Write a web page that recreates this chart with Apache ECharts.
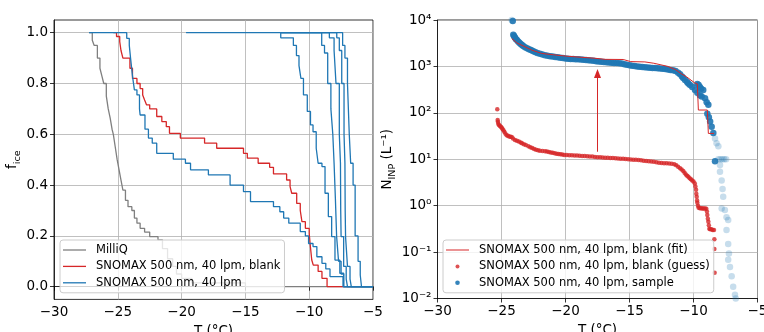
<!DOCTYPE html>
<html>
<head>
<meta charset="utf-8">
<script src="https://cdn.jsdelivr.net/npm/echarts@6/dist/echarts.min.js"></script>
<style>
  html, body { margin: 0; padding: 0; background: #fff; }
  #chart { width: 764px; height: 332px; }
</style>
</head>
<body>
<div id="chart"></div>
<script>
// ---------- left panel: frozen fraction, step curves (value holds from T until next T) ----------
const milliqT = [-27.25, -27.0, -26.85, -26.6, -26.4, -26.25, -26.1, -25.9, -25.75, -25.6, -25.45, -25.35, -25.2, -25.05, -24.9, -24.75, -24.6, -24.4, -24.2, -23.9, -23.7, -23.5, -23.25, -22.9, -22.5, -21.85, -21.5, -21.1, -20.7, -20.4, -20.0, -19.2, -15.0, -5];
const milliqF = [1.0, 0.97, 0.95, 0.9, 0.86, 0.83, 0.8, 0.75, 0.7, 0.665, 0.62, 0.6, 0.55, 0.5, 0.46, 0.42, 0.38, 0.34, 0.315, 0.3, 0.27, 0.25, 0.23, 0.215, 0.197, 0.184, 0.15, 0.11, 0.08, 0.05, 0.033, 0.015, 0.0, 0.0];

const blankT = [-25.35, -25.1, -24.85, -24.75, -24.6, -24.05, -23.85, -23.5, -23.25, -23.05, -22.9, -22.75, -22.5, -21.95, -21.55, -21.2, -20.95, -20.1, -18.2, -17.25, -15.15, -14.85, -14.0, -13.1, -12.8, -11.77, -11.5, -11.37, -10.98, -10.7, -10.57, -10.3, -10.0, -9.93, -9.8, -9.68, -9.3, -9.0, -8.6, -5];
const blankF = [1.0, 0.985, 0.965, 0.93, 0.9, 0.86, 0.82, 0.8, 0.78, 0.755, 0.735, 0.716, 0.7, 0.67, 0.65, 0.63, 0.604, 0.585, 0.565, 0.545, 0.525, 0.506, 0.486, 0.47, 0.444, 0.42, 0.394, 0.368, 0.328, 0.3, 0.256, 0.23, 0.21, 0.17, 0.105, 0.085, 0.06, 0.033, 0.0, 0.0];

const run1T = [-27.25, -24.3, -24.1, -24.0, -23.85, -23.7, -23.5, -23.3, -23.25, -22.87, -22.6, -22.3, -21.95, -20.65, -19.7, -19.3, -17.9, -16.2, -15.15, -14.6, -12.8, -12.3, -12.0, -11.6, -10.7, -10.3, -10.05, -9.7, -9.4, -9.0, -8.7, -8.37, -7.35, -5];
const run1F = [1.0, 0.978, 0.95, 0.9, 0.83, 0.775, 0.755, 0.7, 0.676, 0.62, 0.585, 0.565, 0.525, 0.502, 0.486, 0.46, 0.44, 0.4, 0.374, 0.335, 0.315, 0.295, 0.27, 0.25, 0.217, 0.2, 0.17, 0.158, 0.118, 0.092, 0.07, 0.04, 0.0, 0.0];

const run2T = [-19.65, -12.23, -11.24, -11.0, -10.8, -10.65, -10.45, -10.15, -9.9, -9.7, -9.45, -9.3, -9.0, -8.76, -8.5, -8.24, -7.98, -7.6, -7.3, -5];
const run2F = [1.0, 0.98, 0.95, 0.91, 0.87, 0.82, 0.755, 0.69, 0.637, 0.61, 0.545, 0.486, 0.473, 0.368, 0.276, 0.197, 0.105, 0.053, 0.0, 0.0];

const run3T = [-12.2, -9.02, -8.8, -8.55, -8.3, -8.15, -8.05, -7.95, -7.85, -7.7, -7.5, -7.3, -5];
const run3F = [1.0, 0.95, 0.92, 0.8, 0.7, 0.6, 0.486, 0.35, 0.197, 0.1, 0.05, 0.0, 0.0];

const run4T = [-12.2, -8.42, -8.05, -7.9, -7.64, -7.55, -7.53, -7.5, -7.3, -7.1, -7.0, -5];
const run4F = [1.0, 0.98, 0.93, 0.8, 0.6, 0.486, 0.3, 0.197, 0.08, 0.03, 0.0, 0.0];

const run5T = [-12.2, -7.84, -7.64, -7.45, -7.27, -7.2, -7.18, -7.15, -7.0, -6.8, -6.7, -5];
const run5F = [1.0, 0.98, 0.93, 0.8, 0.6, 0.486, 0.3, 0.197, 0.08, 0.03, 0.0, 0.0];

const run6T = [-12.2, -7.38, -7.2, -7.0, -6.86, -6.75, -6.56, -6.4, -6.17, -6.0, -5.9, -5];
const run6F = [1.0, 0.95, 0.9, 0.8, 0.6, 0.486, 0.4, 0.2, 0.1, 0.046, 0.0, 0.0];

const fTicks = [0, 0.2, 0.4, 0.6, 0.8, 1.0];

// ---------- right panel: INP concentration ----------
const guessT = [-25.33, -25.3, -25.28, -25.25, -25.2, -25.12, -25.05, -24.98, -24.92, -24.85, -24.78, -24.7, -24.6, -24.5, -24.4, -24.3, -24.2, -24.1, -23.95, -23.8, -23.65, -23.5, -23.4, -23.25, -23.1, -22.9, -22.75, -22.6, -22.45, -22.3, -22.15, -22.0, -21.8, -21.6, -21.45, -21.3, -21.15, -21.0, -20.85, -20.7, -20.55, -20.4, -20.25, -20.1, -19.9, -19.7, -19.5, -19.3, -19.1, -18.9, -18.7, -18.5, -18.3, -18.1, -17.9, -17.7, -17.5, -17.3, -17.1, -16.9, -16.7, -16.5, -16.3, -16.1, -15.9, -15.7, -15.5, -15.3, -15.1, -14.9, -14.7, -14.5, -14.3, -14.1, -13.9, -13.7, -13.5, -13.3, -13.1, -12.9, -12.7, -12.5, -12.3, -12.1, -11.9, -11.7, -11.5, -11.35, -11.2, -11.05, -10.93, -10.8, -10.7, -10.6, -10.5, -10.4, -10.3, -10.2, -10.1, -10.0, -9.9, -9.85, -9.8, -9.78, -9.75, -9.72, -9.7, -9.65, -9.6, -9.5, -9.4, -9.3, -9.2, -9.1, -9.0, -8.95, -8.92, -8.88, -8.84, -8.8, -8.76, -8.7, -8.6, -8.5, -8.4, -8.37, -8.37, -8.35];
const guessN = [119, 70, 64, 58, 55, 52, 50, 48, 45, 42, 39, 36, 33, 32, 31, 30.5, 30, 28, 26, 25, 24, 23, 22, 21, 20.3, 19, 18.2, 17.5, 16.6, 16, 15.6, 15.2, 15, 14.8, 14.6, 14.3, 14, 13.8, 13.5, 13.2, 13, 12.8, 12.6, 12.4, 12.3, 12.2, 12.2, 12.1, 12.0, 11.9, 11.8, 11.8, 11.6, 11.5, 11.4, 11.2, 11.1, 11.0, 10.9, 10.8, 10.8, 10.7, 10.6, 10.5, 10.4, 10.3, 10.2, 10.1, 10.0, 9.9, 9.8, 9.7, 9.6, 9.5, 9.3, 9.2, 9.1, 8.9, 8.8, 8.6, 8.4, 8.3, 8.2, 8.2, 8.1, 8.0, 7.8, 7.4, 6.9, 6.4, 6.0, 5.6, 5.1, 4.7, 4.4, 4.2, 3.9, 3.7, 3.5, 3.3, 3.0, 2.6, 2.2, 1.8, 1.55, 1.3, 1.15, 1.0, 0.9, 0.88, 0.88, 0.87, 0.87, 0.87, 0.86, 0.75, 0.63, 0.52, 0.45, 0.38, 0.32, 0.31, 0.31, 0.3, 0.3, 0.19, 0.116, 0.036];

const sampleT = [-24.12, -24.08, -24.02, -23.95, -23.88, -23.8, -23.7, -23.6, -23.5, -23.4, -23.3, -23.16, -23.0, -22.85, -22.7, -22.55, -22.38, -22.2, -22.0, -21.8, -21.6, -21.4, -21.2, -21.0, -20.8, -20.6, -20.4, -20.2, -20.0, -19.8, -19.6, -19.4, -19.2, -19.0, -18.8, -18.6, -18.4, -18.2, -18.0, -17.8, -17.6, -17.4, -17.2, -17.0, -16.8, -16.6, -16.4, -16.2, -16.0, -15.8, -15.6, -15.4, -15.2, -15.0, -14.8, -14.6, -14.4, -14.2, -14.0, -13.8, -13.6, -13.4, -13.2, -13.0, -12.8, -12.6, -12.4, -12.2, -12.0, -11.8, -11.6, -11.4, -11.2, -11.05, -10.9, -10.8, -10.66, -10.5, -10.4, -10.27, -10.1, -9.88, -9.7, -9.5, -9.36, -9.7, -9.6, -9.5, -9.4, -9.24, -9.1, -8.97, -8.84, -8.92, -8.8, -8.7, -8.58, -8.45, -8.32];
const sampleN = [9500, 4800, 4500, 4200, 3900, 3700, 3450, 3250, 3050, 2900, 2750, 2600, 2450, 2350, 2250, 2150, 2050, 1950, 1880, 1800, 1750, 1700, 1660, 1630, 1600, 1570, 1540, 1510, 1490, 1470, 1450, 1440, 1430, 1420, 1410, 1400, 1380, 1360, 1340, 1320, 1300, 1280, 1260, 1250, 1230, 1210, 1200, 1190, 1180, 1170, 1150, 1120, 1090, 1060, 1040, 1020, 1000, 980, 970, 960, 950, 940, 930, 920, 910, 900, 890, 880, 860, 840, 830, 800, 730, 680, 610, 560, 510, 460, 430, 400, 360, 310, 270, 240, 225, 420, 400, 360, 330, 310, 205, 170, 150, 95, 80, 65, 50, 37, 9];

const tailT = [-24.2, -8.32, -8.2, -8.06, -8.06, -7.9, -7.75, -7.6, -7.45, -7.93, -7.93, -7.8, -7.73, -7.68, -7.8, -7.55, -7.42, -7.29, -7.42, -7.29, -7.23, -7.29, -7.15, -7.02, -6.9, -6.76, -6.7];
const tailN = [10000, 28, 22, 19, 10, 10, 10, 10, 10, 7.5, 5.4, 3.5, 2.3, 1.55, 0.87, 0.81, 0.56, 0.49, 0.3, 0.15, 0.093, 0.068, 0.048, 0.03, 0.018, 0.012, 0.01];

const fitT = [-24.2, -23.8, -23.16, -22.64, -21.86, -20.95, -19.9, -18.73, -17.7, -16.9, -15.5, -14.9, -13.8, -13.1, -12.0, -11.4, -10.9, -10.55, -9.9, -9.7, -9.62, -8.92, -8.84, -8.4];
const fitN = [4000, 3200, 2650, 2250, 1900, 1780, 1660, 1570, 1500, 1420, 1410, 1270, 1250, 1170, 1000, 850, 680, 600, 440, 420, 115, 115, 36, 36];

const arrowT = -17.5;
const arrowFrom = 14.5;
const arrowTo = 700;

// ---------- helpers ----------
const pairs = (xs, ys) => xs.map((x, i) => [x, ys[i]]);
const minus = v => String(v).replace('-', '\u2212');
const SUP = {'-': '\u207b', '0': '\u2070', '1': '\u00b9', '2': '\u00b2', '3': '\u00b3', '4': '\u2074'};
const pow10 = v => '10' + String(Math.round(Math.log10(v))).split('').map(c => SUP[c]).join('');

const FONT = 'DejaVu Sans';
const BLUE = '#1f77b4', RED = '#d62728', GRAY = '#7f7f7f';
const NAME_MQ = 'MilliQ';
const NAME_BLANK = 'SNOMAX 500 nm, 40 lpm, blank';
const NAME_RUN = 'SNOMAX 500 nm, 40 lpm';
const NAME_FIT = 'SNOMAX 500 nm, 40 lpm, blank (fit)';
const NAME_GUESS = 'SNOMAX 500 nm, 40 lpm, blank (guess)';
const NAME_SAMPLE = 'SNOMAX 500 nm, 40 lpm, sample';

// legend handles drawn inside a fixed 23x11 box (the lone moves pin the box size)
const dot = r => 'path://M0,0M23,11M' + (11.5 - r) + ',5.5a' + r + ',' + r + ' 0 1,0 ' + (2 * r) + ',0a' + r + ',' + r + ' 0 1,0 ' + (-2 * r) + ',0z';
const dash = w => 'path://M0,0M23,11M0,' + (5.5 - w / 2) + 'h23v' + w + 'h-23z';

const gridLine = {show: true, lineStyle: {color: '#b0b0b0', width: 0.8}};
const tick = {show: true, length: 4, lineStyle: {color: '#000', width: 0.8}};
const label = {color: '#000', fontFamily: FONT, fontSize: 13.5, margin: 6};

const xAxisBase = idx => ({
    type: 'value', gridIndex: idx, min: -30, max: -5, interval: 5,
    name: 'T (°C)', nameLocation: 'middle', nameGap: 22,
    nameTextStyle: {color: '#000', fontFamily: FONT, fontSize: 13.5},
    axisLine: {show: true, lineStyle: {color: '#000', width: 0.8}},
    axisTick: tick, splitLine: gridLine,
    axisLabel: Object.assign({formatter: minus}, label)
});

const stepLine = (name, xs, ys, color) => ({
    name, type: 'line', xAxisIndex: 0, yAxisIndex: 0, step: 'end',
    data: pairs(xs, ys), showSymbol: false, symbol: 'none',
    lineStyle: {color, width: 1.3}, itemStyle: {color}, z: 3
});

const legendBase = {
    orient: 'vertical', top: 240, itemWidth: 23, itemHeight: 11, itemGap: 4.4,
    padding: [4, 4, 4, 3],
    backgroundColor: 'rgba(255,255,255,0.8)', borderColor: '#cccccc', borderWidth: 1, borderRadius: 3,
    textStyle: {color: '#000', fontFamily: FONT, fontSize: 11.5, padding: [0, 0, 0, 5]},
    selectedMode: false
};

const chart = echarts.init(document.getElementById('chart'), null, {renderer: 'canvas'});
chart.setOption({
    animation: false,
    backgroundColor: '#fff',
    grid: [
        {left: 54, top: 20, width: 319, height: 279.4, show: true, borderColor: '#000', borderWidth: 0.8, outerBoundsMode: 'none'},
        {left: 437.5, top: 20, width: 320, height: 278.5, show: true, borderColor: '#000', borderWidth: 0.8, outerBoundsMode: 'none'}
    ],
    xAxis: [xAxisBase(0), xAxisBase(1)],
    yAxis: [
        {
            type: 'value', gridIndex: 0, min: -0.05, max: 1.05,
            name: '{i|f}{s|ice}', nameLocation: 'middle', nameGap: 27, nameRotate: 90,
            nameTextStyle: {rich: {
                i: {color: '#000', fontFamily: FONT, fontSize: 13.5},
                s: {color: '#000', fontFamily: FONT, fontSize: 9.5, lineHeight: 20, verticalAlign: 'bottom'}
            }},
            axisLine: {show: true, lineStyle: {color: '#000', width: 0.8}},
            axisTick: Object.assign({customValues: fTicks}, tick),
            splitLine: gridLine,
            axisLabel: Object.assign({customValues: fTicks, formatter: v => v.toFixed(1)}, label)
        },
        {
            type: 'log', logBase: 10, gridIndex: 1, min: 0.01, max: 10000,
            name: '{i|N}{s|INP}{i| (L\u207b\u00b9)}', nameLocation: 'middle', nameGap: 40, nameRotate: 90,
            nameTextStyle: {rich: {
                i: {color: '#000', fontFamily: FONT, fontSize: 13.5},
                s: {color: '#000', fontFamily: FONT, fontSize: 9.5, lineHeight: 20, verticalAlign: 'bottom'}
            }},
            axisLine: {show: true, lineStyle: {color: '#000', width: 0.8}},
            axisTick: tick, splitLine: gridLine,
            axisLabel: Object.assign({formatter: pow10}, label)
        }
    ],
    legend: [
        Object.assign({left: 60, data: [
            {name: NAME_MQ, icon: dash(1.3)},
            {name: NAME_BLANK, icon: dash(1.3)},
            {name: NAME_RUN, icon: dash(1.3)}
        ]}, legendBase),
        Object.assign({left: 443, data: [
            {name: NAME_FIT, icon: dash(1)},
            {name: NAME_GUESS, icon: dot(2)},
            {name: NAME_SAMPLE, icon: dot(2.3)}
        ]}, legendBase)
    ],
    series: [
        stepLine(NAME_MQ, milliqT, milliqF, GRAY),
        stepLine(NAME_BLANK, blankT, blankF, RED),
        stepLine(NAME_RUN, run1T, run1F, BLUE),
        stepLine(NAME_RUN, run2T, run2F, BLUE),
        stepLine(NAME_RUN, run3T, run3F, BLUE),
        stepLine(NAME_RUN, run4T, run4F, BLUE),
        stepLine(NAME_RUN, run5T, run5F, BLUE),
        stepLine(NAME_RUN, run6T, run6F, BLUE),
        {
            name: NAME_GUESS, type: 'scatter', xAxisIndex: 1, yAxisIndex: 1,
            data: pairs(guessT, guessN), symbolSize: 4.5,
            itemStyle: {color: RED}, z: 2
        },
        {
            name: NAME_SAMPLE, type: 'scatter', xAxisIndex: 1, yAxisIndex: 1,
            data: pairs(sampleT, sampleN), symbolSize: 6.5,
            itemStyle: {color: BLUE, opacity: 0.9}, z: 2
        },
        {
            name: NAME_SAMPLE, type: 'scatter', xAxisIndex: 1, yAxisIndex: 1,
            data: pairs(tailT, tailN), symbolSize: 6.5,
            itemStyle: {color: BLUE, opacity: 0.25}, z: 2
        },
        {
            name: NAME_FIT, type: 'line', xAxisIndex: 1, yAxisIndex: 1,
            data: pairs(fitT, fitN), showSymbol: false, symbol: 'none',
            lineStyle: {color: RED, width: 1}, itemStyle: {color: RED}, z: 4
        },
        {
            // annotation arrow (blank -> sample shift)
            type: 'line', xAxisIndex: 1, yAxisIndex: 1, z: 5, silent: true,
            data: [
                {value: [arrowT, arrowFrom], symbol: 'none'},
                {value: [arrowT, arrowTo], symbol: 'triangle', symbolSize: [7, 9]}
            ],
            showSymbol: true,
            lineStyle: {color: RED, width: 1}, itemStyle: {color: RED}
        }
    ]
});
</script>
</body>
</html>
